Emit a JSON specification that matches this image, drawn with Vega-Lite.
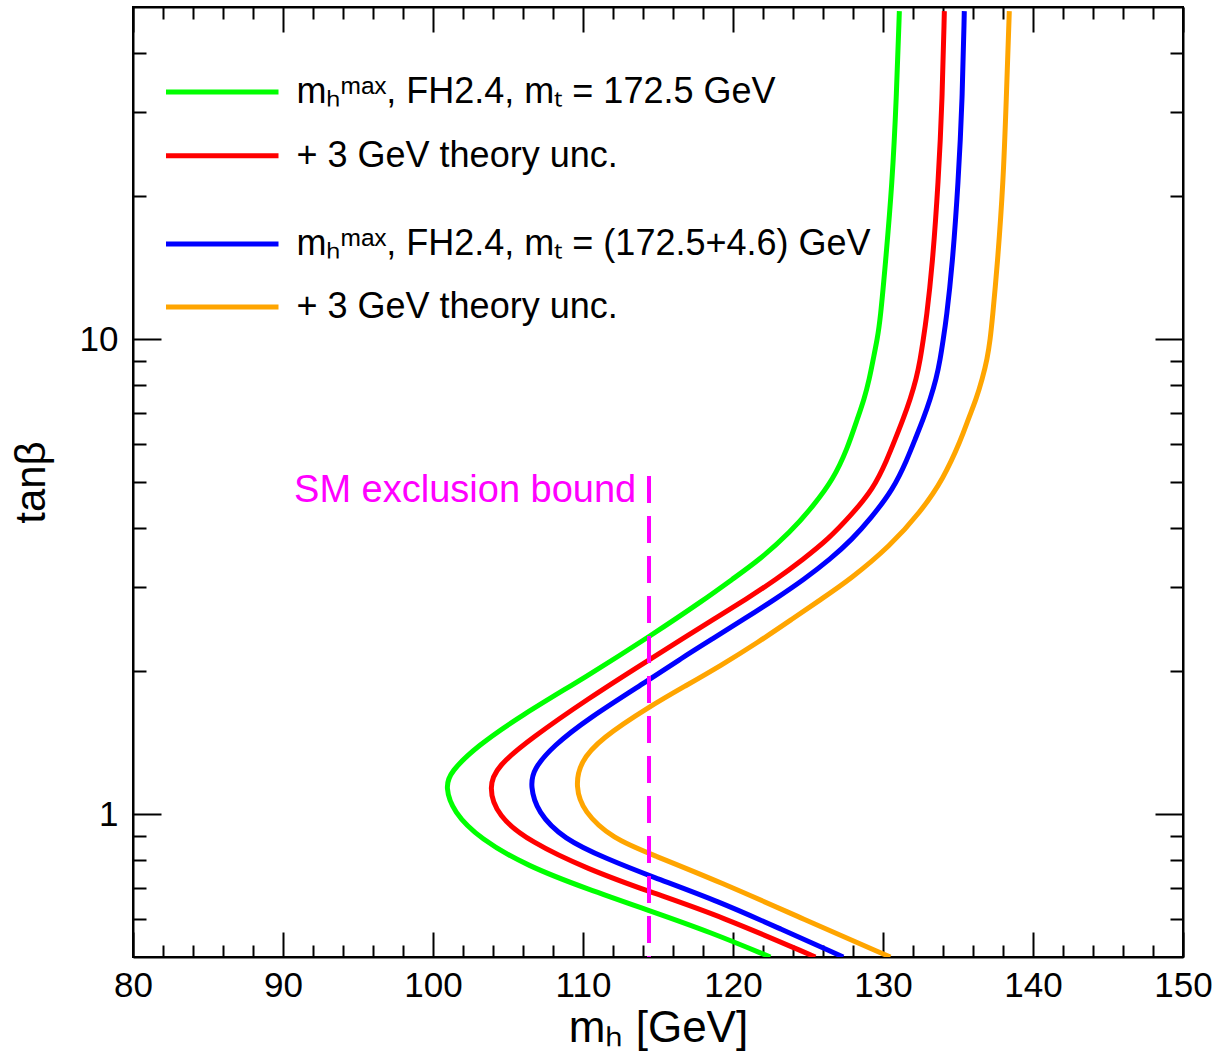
{
  "$schema": "https://vega.github.io/schema/vega-lite/v6.json",
  "width": 1050,
  "height": 950,
  "autosize": {"type": "none"},
  "padding": {"left": 133, "top": 7, "right": 40, "bottom": 100},
  "background": "white",
  "config": {
    "view": {"stroke": "black", "strokeWidth": 2},
    "font": "Liberation Sans",
    "axis": {"grid": false, "domainColor": "black", "domainWidth": 2, "tickColor": "black", "tickWidth": 2, "labelColor": "black", "titleColor": "black", "labelFont": "Liberation Sans", "titleFont": "Liberation Sans", "titleFontWeight": "normal"}
  },
  "datasets": {
    "curves": [
      {"s": "g", "i": 1, "mh": 122.49, "tb": 0.5},
      {"s": "g", "i": 2, "mh": 118.49, "tb": 0.564},
      {"s": "g", "i": 3, "mh": 114.49, "tb": 0.625},
      {"s": "g", "i": 4, "mh": 110.29, "tb": 0.695},
      {"s": "g", "i": 5, "mh": 106.29, "tb": 0.777},
      {"s": "g", "i": 6, "mh": 103.15, "tb": 0.886},
      {"s": "g", "i": 7, "mh": 101.35, "tb": 1.01},
      {"s": "g", "i": 8, "mh": 100.82, "tb": 1.14},
      {"s": "g", "i": 9, "mh": 101.15, "tb": 1.226},
      {"s": "g", "i": 10, "mh": 102.95, "tb": 1.391},
      {"s": "g", "i": 11, "mh": 105.82, "tb": 1.608},
      {"s": "g", "i": 12, "mh": 110.29, "tb": 1.952},
      {"s": "g", "i": 13, "mh": 114.49, "tb": 2.37},
      {"s": "g", "i": 14, "mh": 118.15, "tb": 2.835},
      {"s": "g", "i": 15, "mh": 119.95, "tb": 3.12},
      {"s": "g", "i": 16, "mh": 121.82, "tb": 3.44},
      {"s": "g", "i": 17, "mh": 123.82, "tb": 3.92},
      {"s": "g", "i": 18, "mh": 125.35, "tb": 4.45},
      {"s": "g", "i": 19, "mh": 126.69, "tb": 5.07},
      {"s": "g", "i": 20, "mh": 127.62, "tb": 5.87},
      {"s": "g", "i": 21, "mh": 128.29, "tb": 6.79},
      {"s": "g", "i": 22, "mh": 128.75, "tb": 7.48},
      {"s": "g", "i": 23, "mh": 129.09, "tb": 8.24},
      {"s": "g", "i": 24, "mh": 129.35, "tb": 9.08},
      {"s": "g", "i": 25, "mh": 129.62, "tb": 10.0},
      {"s": "g", "i": 26, "mh": 129.82, "tb": 11.02},
      {"s": "g", "i": 27, "mh": 130.15, "tb": 14.25},
      {"s": "g", "i": 28, "mh": 130.62, "tb": 21.41},
      {"s": "g", "i": 29, "mh": 130.89, "tb": 32.0},
      {"s": "g", "i": 30, "mh": 131.09, "tb": 49.0},
      {"s": "r", "i": 1, "mh": 125.49, "tb": 0.5},
      {"s": "r", "i": 2, "mh": 119.15, "tb": 0.61},
      {"s": "r", "i": 3, "mh": 114.49, "tb": 0.685},
      {"s": "r", "i": 4, "mh": 110.29, "tb": 0.766},
      {"s": "r", "i": 5, "mh": 106.49, "tb": 0.873},
      {"s": "r", "i": 6, "mh": 104.29, "tb": 0.99},
      {"s": "r", "i": 7, "mh": 103.69, "tb": 1.14},
      {"s": "r", "i": 8, "mh": 104.29, "tb": 1.262},
      {"s": "r", "i": 9, "mh": 106.49, "tb": 1.439},
      {"s": "r", "i": 10, "mh": 110.29, "tb": 1.746},
      {"s": "r", "i": 11, "mh": 114.49, "tb": 2.12},
      {"s": "r", "i": 12, "mh": 116.62, "tb": 2.336},
      {"s": "r", "i": 13, "mh": 118.75, "tb": 2.574},
      {"s": "r", "i": 14, "mh": 120.89, "tb": 2.835},
      {"s": "r", "i": 15, "mh": 122.89, "tb": 3.12},
      {"s": "r", "i": 16, "mh": 124.69, "tb": 3.44},
      {"s": "r", "i": 17, "mh": 126.35, "tb": 3.79},
      {"s": "r", "i": 18, "mh": 127.82, "tb": 4.24},
      {"s": "r", "i": 19, "mh": 129.35, "tb": 4.83},
      {"s": "r", "i": 20, "mh": 130.29, "tb": 5.59},
      {"s": "r", "i": 21, "mh": 130.82, "tb": 6.16},
      {"s": "r", "i": 22, "mh": 131.35, "tb": 6.79},
      {"s": "r", "i": 23, "mh": 131.82, "tb": 7.48},
      {"s": "r", "i": 24, "mh": 132.22, "tb": 8.24},
      {"s": "r", "i": 25, "mh": 132.49, "tb": 9.08},
      {"s": "r", "i": 26, "mh": 132.69, "tb": 10.0},
      {"s": "r", "i": 27, "mh": 132.89, "tb": 11.02},
      {"s": "r", "i": 28, "mh": 133.29, "tb": 14.25},
      {"s": "r", "i": 29, "mh": 133.69, "tb": 21.41},
      {"s": "r", "i": 30, "mh": 133.95, "tb": 32.0},
      {"s": "r", "i": 31, "mh": 134.09, "tb": 49.0},
      {"s": "b", "i": 1, "mh": 127.35, "tb": 0.5},
      {"s": "b", "i": 2, "mh": 123.15, "tb": 0.573},
      {"s": "b", "i": 3, "mh": 119.15, "tb": 0.653},
      {"s": "b", "i": 4, "mh": 114.49, "tb": 0.74},
      {"s": "b", "i": 5, "mh": 111.62, "tb": 0.804},
      {"s": "b", "i": 6, "mh": 108.69, "tb": 0.886},
      {"s": "b", "i": 7, "mh": 106.95, "tb": 1.01},
      {"s": "b", "i": 8, "mh": 106.49, "tb": 1.145},
      {"s": "b", "i": 9, "mh": 106.69, "tb": 1.244},
      {"s": "b", "i": 10, "mh": 108.02, "tb": 1.391},
      {"s": "b", "i": 11, "mh": 110.29, "tb": 1.585},
      {"s": "b", "i": 12, "mh": 114.49, "tb": 1.924},
      {"s": "b", "i": 13, "mh": 116.49, "tb": 2.12},
      {"s": "b", "i": 14, "mh": 118.62, "tb": 2.336},
      {"s": "b", "i": 15, "mh": 120.75, "tb": 2.574},
      {"s": "b", "i": 16, "mh": 122.82, "tb": 2.835},
      {"s": "b", "i": 17, "mh": 124.75, "tb": 3.12},
      {"s": "b", "i": 18, "mh": 126.49, "tb": 3.44},
      {"s": "b", "i": 19, "mh": 127.95, "tb": 3.79},
      {"s": "b", "i": 20, "mh": 129.15, "tb": 4.18},
      {"s": "b", "i": 21, "mh": 130.69, "tb": 4.83},
      {"s": "b", "i": 22, "mh": 131.62, "tb": 5.59},
      {"s": "b", "i": 23, "mh": 132.15, "tb": 6.16},
      {"s": "b", "i": 24, "mh": 132.69, "tb": 6.79},
      {"s": "b", "i": 25, "mh": 133.15, "tb": 7.48},
      {"s": "b", "i": 26, "mh": 133.55, "tb": 8.24},
      {"s": "b", "i": 27, "mh": 133.82, "tb": 9.08},
      {"s": "b", "i": 28, "mh": 134.02, "tb": 10.0},
      {"s": "b", "i": 29, "mh": 134.22, "tb": 11.02},
      {"s": "b", "i": 30, "mh": 134.62, "tb": 14.25},
      {"s": "b", "i": 31, "mh": 135.02, "tb": 21.41},
      {"s": "b", "i": 32, "mh": 135.29, "tb": 32.0},
      {"s": "b", "i": 33, "mh": 135.42, "tb": 49.0},
      {"s": "o", "i": 1, "mh": 130.49, "tb": 0.5},
      {"s": "o", "i": 2, "mh": 124.69, "tb": 0.601},
      {"s": "o", "i": 3, "mh": 119.15, "tb": 0.719},
      {"s": "o", "i": 4, "mh": 114.49, "tb": 0.824},
      {"s": "o", "i": 5, "mh": 112.02, "tb": 0.886},
      {"s": "o", "i": 6, "mh": 110.02, "tb": 1.01},
      {"s": "o", "i": 7, "mh": 109.49, "tb": 1.145},
      {"s": "o", "i": 8, "mh": 109.82, "tb": 1.287},
      {"s": "o", "i": 9, "mh": 111.15, "tb": 1.439},
      {"s": "o", "i": 10, "mh": 114.49, "tb": 1.688},
      {"s": "o", "i": 11, "mh": 116.82, "tb": 1.86},
      {"s": "o", "i": 12, "mh": 119.15, "tb": 2.05},
      {"s": "o", "i": 13, "mh": 121.69, "tb": 2.3},
      {"s": "o", "i": 14, "mh": 123.95, "tb": 2.574},
      {"s": "o", "i": 15, "mh": 125.89, "tb": 2.835},
      {"s": "o", "i": 16, "mh": 127.82, "tb": 3.12},
      {"s": "o", "i": 17, "mh": 130.49, "tb": 3.67},
      {"s": "o", "i": 18, "mh": 132.49, "tb": 4.32},
      {"s": "o", "i": 19, "mh": 134.02, "tb": 5.07},
      {"s": "o", "i": 20, "mh": 135.22, "tb": 6.16},
      {"s": "o", "i": 21, "mh": 135.69, "tb": 6.79},
      {"s": "o", "i": 22, "mh": 136.22, "tb": 7.48},
      {"s": "o", "i": 23, "mh": 136.62, "tb": 8.24},
      {"s": "o", "i": 24, "mh": 136.95, "tb": 9.08},
      {"s": "o", "i": 25, "mh": 137.15, "tb": 10.0},
      {"s": "o", "i": 26, "mh": 137.29, "tb": 11.02},
      {"s": "o", "i": 27, "mh": 137.62, "tb": 14.25},
      {"s": "o", "i": 28, "mh": 138.02, "tb": 21.41},
      {"s": "o", "i": 29, "mh": 138.22, "tb": 32.0},
      {"s": "o", "i": 30, "mh": 138.42, "tb": 49.0}
    ],
    "legend": [
      {"s": "g", "x1": 82.2, "x2": 89.7, "tx": 90.9, "ly": 33.1, "t": "mₕᵐᵃˣ, FH2.4, mₜ = 172.5 GeV"},
      {"s": "r", "x1": 82.2, "x2": 89.7, "tx": 90.9, "ly": 24.3, "t": "+ 3 GeV theory unc."},
      {"s": "b", "x1": 82.2, "x2": 89.7, "tx": 90.9, "ly": 15.85, "t": "mₕᵐᵃˣ, FH2.4, mₜ = (172.5+4.6) GeV"},
      {"s": "o", "x1": 82.2, "x2": 89.7, "tx": 90.9, "ly": 11.68, "t": "+ 3 GeV theory unc."}
    ],
    "sm": [
      {"mh": 114.4, "y1": 5.15, "y2": 0.5, "tx": 113.55, "ty": 4.79, "t": "SM exclusion bound"}
    ]
  },
  "resolve": {"axis": {"x": "independent", "y": "independent"}},
  "layer": [
    {
      "data": {"name": "curves"},
      "mark": {"type": "line", "strokeWidth": 5, "interpolate": "basis", "clip": true},
      "encoding": {
        "x": {"field": "mh", "type": "quantitative",
          "scale": {"domain": [80, 150], "nice": false, "zero": false},
          "axis": {"orient": "bottom", "values": [80, 90, 100, 110, 120, 130, 140, 150], "tickSize": -25, "labelFontSize": 35, "labelPadding": 36, "labelFlush": false, "title": "mₕ [GeV]", "titleFontSize": 44, "titlePadding": 3}},
        "y": {"field": "tb", "type": "quantitative",
          "scale": {"type": "log", "domain": [0.5, 50], "nice": false},
          "axis": {"orient": "left", "values": [1, 10], "tickSize": -28, "labelFontSize": 35, "labelPadding": 43, "title": "tanβ", "titleFontSize": 42, "titlePadding": 26}},
        "color": {"field": "s", "type": "nominal", "scale": {"domain": ["g", "r", "b", "o"], "range": ["#00ff00", "#ff0000", "#0000ff", "#ffa500"]}, "legend": null},
        "order": {"field": "i", "type": "quantitative"}
      }
    },
    {
      "data": {"name": "sm"},
      "mark": {"type": "rule", "color": "#ff00ff", "strokeWidth": 4, "strokeDash": [27, 13]},
      "encoding": {
        "x": {"field": "mh", "type": "quantitative",
          "scale": {"domain": [80, 150], "nice": false, "zero": false},
          "axis": {"orient": "top", "values": [80, 90, 100, 110, 120, 130, 140, 150], "tickSize": -25, "labels": false, "title": null}},
        "y": {"field": "y1", "type": "quantitative",
          "scale": {"type": "log", "domain": [0.5, 50], "nice": false},
          "axis": {"orient": "right", "values": [1, 10], "tickSize": -28, "labels": false, "title": null}},
        "y2": {"field": "y2"}
      }
    },
    {
      "data": {"name": "sm"},
      "mark": {"type": "text", "color": "#ff00ff", "fontSize": 38, "align": "right", "baseline": "middle", "font": "Liberation Sans"},
      "encoding": {
        "x": {"field": "tx", "type": "quantitative",
          "scale": {"domain": [80, 150], "nice": false, "zero": false},
          "axis": {"orient": "bottom", "values": [82, 84, 86, 88, 92, 94, 96, 98, 102, 104, 106, 108, 112, 114, 116, 118, 122, 124, 126, 128, 132, 134, 136, 138, 142, 144, 146, 148], "tickSize": -12, "labels": false, "domain": false, "title": null}},
        "y": {"field": "ty", "type": "quantitative",
          "scale": {"type": "log", "domain": [0.5, 50], "nice": false},
          "axis": {"orient": "left", "values": [0.6, 0.7, 0.8, 0.9, 2, 3, 4, 5, 6, 7, 8, 9, 20, 30, 40], "tickSize": -13, "labels": false, "domain": false, "title": null}},
        "text": {"field": "t"}
      }
    },
    {
      "data": {"name": "legend"},
      "mark": {"type": "rule", "strokeWidth": 5},
      "encoding": {
        "x": {"field": "x1", "type": "quantitative",
          "scale": {"domain": [80, 150], "nice": false, "zero": false},
          "axis": {"orient": "top", "values": [82, 84, 86, 88, 92, 94, 96, 98, 102, 104, 106, 108, 112, 114, 116, 118, 122, 124, 126, 128, 132, 134, 136, 138, 142, 144, 146, 148], "tickSize": -12, "labels": false, "domain": false, "title": null}},
        "x2": {"field": "x2"},
        "y": {"field": "ly", "type": "quantitative",
          "scale": {"type": "log", "domain": [0.5, 50], "nice": false},
          "axis": {"orient": "right", "values": [0.6, 0.7, 0.8, 0.9, 2, 3, 4, 5, 6, 7, 8, 9, 20, 30, 40], "tickSize": -13, "labels": false, "domain": false, "title": null}},
        "color": {"field": "s", "type": "nominal", "scale": {"domain": ["g", "r", "b", "o"], "range": ["#00ff00", "#ff0000", "#0000ff", "#ffa500"]}, "legend": null}
      }
    },
    {
      "data": {"name": "legend"},
      "mark": {"type": "text", "color": "black", "fontSize": 36, "align": "left", "baseline": "middle", "font": "Liberation Sans"},
      "encoding": {
        "x": {"field": "tx", "type": "quantitative", "scale": {"domain": [80, 150], "nice": false, "zero": false}, "axis": null},
        "y": {"field": "ly", "type": "quantitative", "scale": {"type": "log", "domain": [0.5, 50], "nice": false}, "axis": null},
        "text": {"field": "t"}
      }
    }
  ]
}
